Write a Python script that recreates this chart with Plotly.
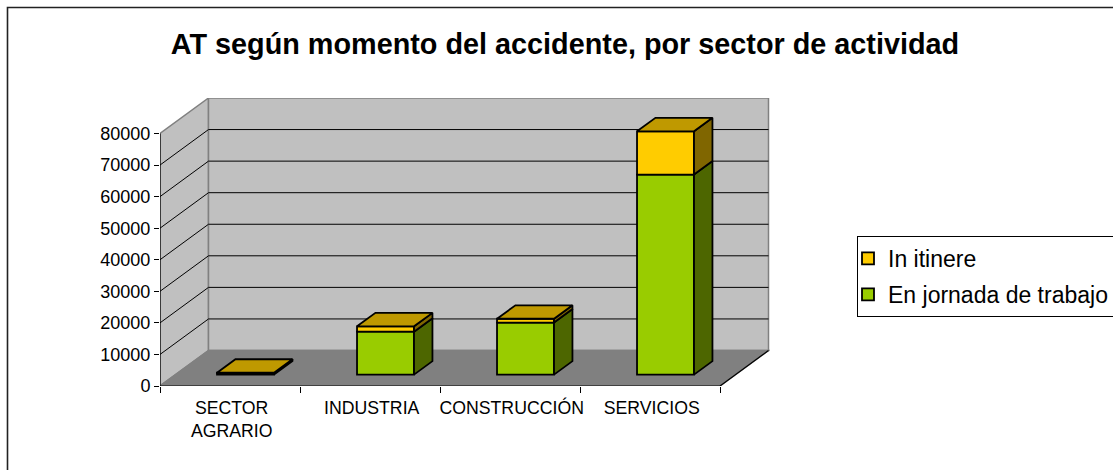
import plotly.graph_objects as go

# ---- data -----
categories = ["SECTOR<br>AGRARIO", "INDUSTRIA", "CONSTRUCCIÓN", "SERVICIOS"]
jornada = [500, 13600, 16500, 63400]
itinere = [100, 1700, 1200, 13700]
y_ticks = [0, 10000, 20000, 30000, 40000, 50000, 60000, 70000, 80000]
title = "AT según momento del accidente, por sector de actividad"

# ---- pixel frame and pseudo-3D projection -----
W, H = 1113, 470
L, R, T, B = 160, 770, 98, 386       # plot rectangle in px
Y_MAX = 80000
PX_PER_UNIT_Y = 252.5 / Y_MAX
DX = 48.5 / 140                      # full floor depth, in category units
DY = 35.5 / PX_PER_UNIT_Y            # full floor depth, in value units
X0 = -0.5
X_END = 3.5
BAR_W = 57 / 140
D0, D1 = 0.32, 0.70                  # bar front and back, as a share of depth
LABEL_SHIFT = 0.012                  # category labels sit a touch right of slot centre


def proj(x, y, d):
    return x + DX * d, y + DY * d


def path(points):
    return "M" + " L".join(f"{x},{y}" for x, y in points) + " Z"


WALL = "#C0C0C0"
FLOOR = "#808080"
EDGE = "#808080"
GREEN, GREEN_SIDE = "#99CC00", "#4D6600"
GOLD, GOLD_SIDE, GOLD_TOP = "#FFCC00", "#806600", "#BF9900"

shapes = []
# walls and floor
for pts, col in [
    ([proj(X0, 0, 0), proj(X0, Y_MAX, 0), proj(X0, Y_MAX, 1), proj(X0, 0, 1)], WALL),
    ([proj(X0, 0, 1), proj(X0, Y_MAX, 1), proj(X_END, Y_MAX, 1), proj(X_END, 0, 1)], WALL),
    ([proj(X0, 0, 0), proj(X0, 0, 1), proj(X_END, 0, 1), proj(X_END, 0, 0)], FLOOR),
]:
    shapes.append(dict(type="path", path=path(pts), fillcolor=col,
                       line=dict(color=EDGE, width=1.5), layer="below"))
# gridlines on both walls
for v in y_ticks[1:-1]:
    a, b, c = proj(X0, v, 0), proj(X0, v, 1), proj(X_END, v, 1)
    for p, q in [(a, b), (b, c)]:
        shapes.append(dict(type="line", x0=p[0], y0=p[1], x1=q[0], y1=q[1],
                           line=dict(color="black", width=1), layer="below"))
# front axis lines and right floor edge
for p, q in [
    (proj(X0, 0, 0), proj(X0, Y_MAX, 0)),
    (proj(X0, 0, 0), proj(X_END, 0, 0)),
    (proj(X_END, 0, 0), proj(X_END, 0, 1)),
]:
    shapes.append(dict(type="line", x0=p[0], y0=p[1], x1=q[0], y1=q[1],
                       line=dict(color="black", width=1.2), layer="below"))
# outer chart frame (paper coordinates)
shapes.append(dict(type="rect", xref="paper", yref="paper",
                   x0=(7.5 - L) / (R - L), x1=(1125 - L) / (R - L),
                   y0=(B - 482) / (B - T), y1=(B - 7.5) / (B - T),
                   line=dict(color="#222222", width=1.6)))

fig = go.Figure()
x_pos = list(range(len(categories)))
offset = DY * D0
xs_front = [x + DX * D0 for x in x_pos]
bases_green = [offset] * len(x_pos)
bases_gold = [offset + v for v in jornada]
line = dict(color="black", width=1.8)

fig.add_bar(x=xs_front, y=jornada, base=bases_green, width=BAR_W, name="En jornada de trabajo",
            marker=dict(color=GREEN, line=line), legendrank=2, legendgroup="a")
fig.add_bar(x=xs_front, y=itinere, base=bases_gold, width=BAR_W, name="In itinere",
            marker=dict(color=GOLD, line=line), legendrank=1, legendgroup="b")


def face(pts, col):
    fig.add_scatter(x=[p[0] for p in pts] + [pts[0][0]], y=[p[1] for p in pts] + [pts[0][1]],
                    mode="lines", fill="toself", fillcolor=col, line=line,
                    showlegend=False, hoverinfo="skip")


for x, g, t in zip(x_pos, jornada, itinere):
    xr = x + BAR_W / 2
    xl = x - BAR_W / 2
    face([proj(xr, 0, D0), proj(xr, g, D0), proj(xr, g, D1), proj(xr, 0, D1)], GREEN_SIDE)
    face([proj(xr, g, D0), proj(xr, g + t, D0), proj(xr, g + t, D1), proj(xr, g, D1)], GOLD_SIDE)
    face([proj(xl, g + t, D0), proj(xr, g + t, D0), proj(xr, g + t, D1), proj(xl, g + t, D1)], GOLD_TOP)

font = "Liberation Sans, Arial, sans-serif"
fig.update_layout(
    width=W, height=H, autosize=False,
    margin=dict(l=L, r=W - R, t=T, b=H - B),
    paper_bgcolor="white", plot_bgcolor="rgba(0,0,0,0)",
    barmode="overlay",
    font=dict(family=font, color="black", size=18),
    title=dict(text=f"<b>{title}</b>", font=dict(size=28.8, family=font, color="black"),
               x=565 / W, xanchor="center", y=1 - 44 / H, yanchor="middle"),
    xaxis=dict(range=[X0, X0 + (R - L) / 140], tickmode="array",
               tickvals=[x + LABEL_SHIFT for x in x_pos], ticktext=categories,
               ticks="", showgrid=False, zeroline=False, showline=False, fixedrange=True,
               tickfont=dict(size=17.7), ticklabelstandoff=9,
               minor=dict(tickmode="array", tickvals=[-0.5, 0.5, 1.5, 2.5, 3.5], ticks="outside",
                          ticklen=6, tickcolor="black", tickwidth=1, showgrid=False)),
    yaxis=dict(range=[0, (B - T) / PX_PER_UNIT_Y], tickmode="array", tickvals=y_ticks, tickformat="d",
               ticks="outside", ticklen=5, tickcolor="black", showgrid=False, zeroline=False,
               showline=False, fixedrange=True, tickfont=dict(size=18), ticklabelstandoff=0),
    shapes=shapes,
    legend=dict(xref="container", yref="container", x=857 / W, xanchor="left",
                y=1 - 236 / H, yanchor="top", bgcolor="white", bordercolor="black", borderwidth=1,
                font=dict(size=23), tracegroupgap=3, indentation=-10, traceorder="grouped",
                entrywidth=240, entrywidthmode="pixels"),
)

fig.write_html("out.html", post_script="document.body.style.margin='0';", config={"displayModeBar": False})
